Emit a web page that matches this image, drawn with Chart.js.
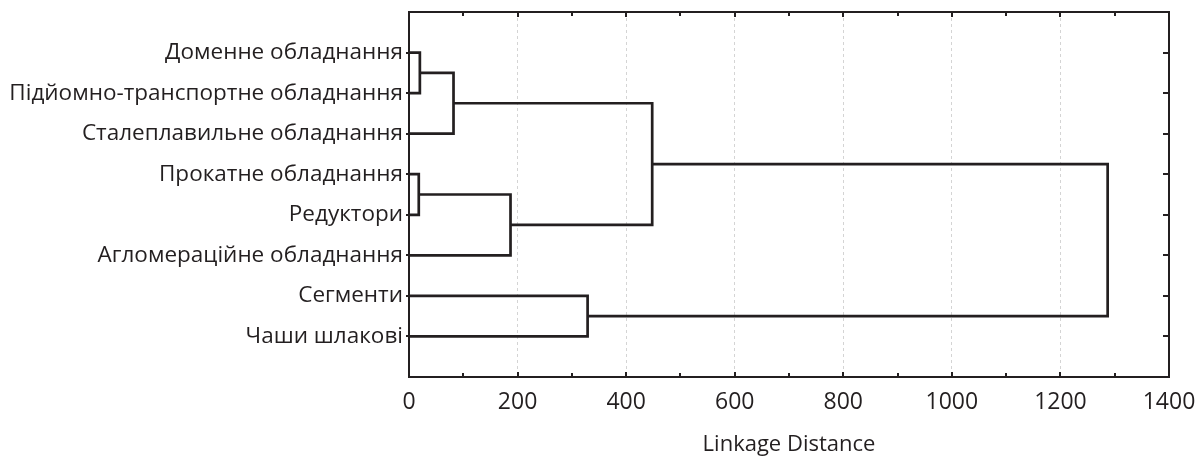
<!DOCTYPE html>
<html>
<head>
<meta charset="utf-8">
<script src="https://cdn.jsdelivr.net/npm/chart.js@4"></script>
<style>
  html, body { margin: 0; padding: 0; background: #fff; }
  #wrap { width: 1200px; height: 459px; }
</style>
</head>
<body>
<div id="wrap"><canvas id="chart" width="1200" height="459"></canvas></div>
<script>
// leaves, top to bottom
const leafLabels = [
    'Доменне обладнання',
    'Підйомно-транспортне обладнання',
    'Сталеплавильне обладнання',
    'Прокатне обладнання',
    'Редуктори',
    'Агломераційне обладнання',
    'Сегменти',
    'Чаши шлакові'
];
// merges: L1..L8 are leaves, letters are clusters built earlier
const mergeNames  = ['A', 'B', 'C', 'D', 'E', 'F', 'G'];
const mergeLeft   = ['L1', 'A', 'L4', 'C', 'B', 'L7', 'E'];
const mergeRight  = ['L2', 'L3', 'L5', 'L6', 'D', 'L8', 'F'];
const mergeHeight = [20, 82, 18, 187, 448, 329, 1287];

const xTicks = [0, 200, 400, 600, 800, 1000, 1200, 1400];
const xTitle = 'Linkage Distance';

const INK = '#231f20';
const FONT = "'Open Sans', 'Noto Sans', sans-serif";

// node position (leaf row) and height
const nodes = {};
leafLabels.forEach((name, i) => { nodes['L' + (i + 1)] = { pos: i + 1, h: 0 }; });
mergeNames.forEach((name, i) => {
    const a = nodes[mergeLeft[i]];
    const b = nodes[mergeRight[i]];
    nodes[name] = { pos: (a.pos + b.pos) / 2, h: mergeHeight[i] };
});

const datasets = mergeNames.map((name, i) => {
    const a = nodes[mergeLeft[i]];
    const b = nodes[mergeRight[i]];
    const h = mergeHeight[i];
    return {
        label: name,
        data: [
            { x: a.h, y: a.pos },
            { x: h, y: a.pos },
            { x: h, y: b.pos },
            { x: b.h, y: b.pos }
        ],
        showLine: true,
        borderColor: INK,
        borderWidth: 2.7,
        pointRadius: 0,
        tension: 0,
        fill: false
    };
});

// frame and inward tick marks, like the Statistica look
const framePlugin = {
    id: 'frame',
    afterDatasetsDraw(chart) {
        const { ctx, chartArea: a, scales } = chart;
        const xs = scales.x, ys = scales.y;
        ctx.save();
        ctx.strokeStyle = INK;
        ctx.lineWidth = 2;
        ctx.strokeRect(a.left, a.top, a.right - a.left, a.bottom - a.top);

        ctx.beginPath();
        for (let v = 100; v < 1400; v += 100) {
            const px = Math.round(xs.getPixelForValue(v));
            const len = v % 200 === 0 ? 5 : 4;
            ctx.moveTo(px, a.top);
            ctx.lineTo(px, a.top + len);
            ctx.moveTo(px, a.bottom);
            ctx.lineTo(px, a.bottom - len);
        }
        leafLabels.forEach((_, i) => {
            const py = Math.round(ys.getPixelForValue(i + 1));
            ctx.moveTo(a.right, py);
            ctx.lineTo(a.right - 6, py);
            ctx.moveTo(a.left, py);
            ctx.lineTo(a.left - 3, py);
        });
        ctx.stroke();
        ctx.restore();
    }
};

new Chart(document.getElementById('chart'), {
    type: 'scatter',
    data: { datasets },
    options: {
        responsive: false,
        animation: false,
        layout: { padding: { left: 0, right: 31, top: 12, bottom: 0 } },
        plugins: {
            legend: { display: false },
            tooltip: { enabled: false }
        },
        scales: {
            x: {
                type: 'linear',
                min: xTicks[0],
                max: xTicks[xTicks.length - 1],
                afterBuildTicks: (scale) => { scale.ticks = xTicks.map(v => ({ value: v })); },
                afterFit: (scale) => {
                    scale.height = 82;
                    scale.paddingLeft = 0;
                    scale.paddingRight = 0;
                },
                ticks: {
                    color: INK,
                    font: { family: FONT, size: 23 },
                    padding: 12,
                    callback: (v) => String(v)
                },
                grid: {
                    drawTicks: false,
                    lineWidth: 1,
                    color: (c) => (c.tick && (c.tick.value === 0 || c.tick.value === 1400)) ? 'rgba(0,0,0,0)' : '#d4d4d4'
                },
                border: { display: false, dash: [3, 3] },
                title: {
                    display: true,
                    text: xTitle,
                    color: INK,
                    font: { family: FONT, size: 22 },
                    padding: { top: 0, bottom: 1 }
                }
            },
            y: {
                type: 'linear',
                reverse: true,
                min: 0,
                max: leafLabels.length + 1,
                afterBuildTicks: (scale) => { scale.ticks = leafLabels.map((_, i) => ({ value: i + 1 })); },
                afterFit: (scale) => {
                    scale.width = 409;
                    scale.paddingTop = 0;
                    scale.paddingBottom = 0;
                },
                ticks: {
                    color: INK,
                    font: { family: FONT, size: 22.5 },
                    padding: 6,
                    callback: (v) => leafLabels[v - 1] || ''
                },
                grid: { display: false, drawTicks: false },
                border: { display: false }
            }
        }
    },
    plugins: [framePlugin]
});
</script>
</body>
</html>
